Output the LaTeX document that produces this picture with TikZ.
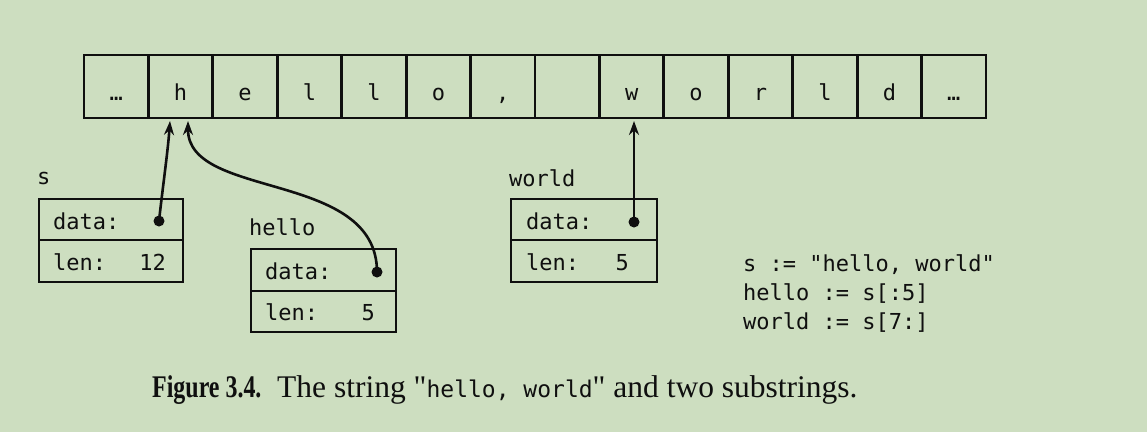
\documentclass[tikz,border=0pt]{standalone}
\usepackage{fontspec}
\setmainfont{Liberation Serif}[Ligatures=TeXOff]
\setmonofont{DejaVu Sans Mono}[Ligatures=TeXOff]
\usetikzlibrary{arrows.meta}
\definecolor{bg}{RGB}{205,222,192}
\definecolor{ink}{RGB}{15,15,15}
\begin{document}
\begin{tikzpicture}[x=1pt,y=-1pt,
  mono/.style={font=\ttfamily\fontsize{22}{22}\selectfont, text=ink, inner sep=0pt},
  cell/.style={draw=ink, line width=2.8pt, minimum width=64.43pt, minimum height=63pt, inner sep=0pt, mono, text height=27pt, text depth=0pt},
  field/.style={draw=ink, line width=2.8pt, inner sep=0pt},
  ptr/.style={draw=ink, line width=2.6pt, -{Stealth[length=14pt,width=10pt]}},
  dotnode/.style={circle, fill=ink, minimum size=11pt, inner sep=0pt}
]
\fill[bg] (0,0) rectangle (1147,432);
\useasboundingbox (0,0) rectangle (1147,432);

% string cells
\node[cell] (c0)  at (116.2,86.5) {…};
\node[cell] (c1)  at (180.6,86.5) {h};
\node[cell] (c2)  at (245.1,86.5) {e};
\node[cell] (c3)  at (309.5,86.5) {l};
\node[cell] (c4)  at (373.9,86.5) {l};
\node[cell] (c5)  at (438.4,86.5) {o};
\node[cell] (c6)  at (502.8,86.5) {,};
\node[cell] (c7)  at (567.2,86.5) {};
\node[cell] (c8)  at (631.7,86.5) {w};
\node[cell] (c9)  at (696.1,86.5) {o};
\node[cell] (c10) at (760.5,86.5) {r};
\node[cell] (c11) at (825.0,86.5) {l};
\node[cell] (c12) at (889.4,86.5) {d};
\node[cell] (c13) at (953.8,86.5) {…};

% s header
\node[mono, anchor=base west] (slab) at (37,184) {s};
\node[field, minimum width=144pt, minimum height=41pt] (sdata) at (111,219.5) {};
\node[field, minimum width=144pt, minimum height=42pt] (slen) at (111,261) {};
\node[mono, anchor=base west] (sdt) at (53,229) {data:};
\node[mono, anchor=base west] (sln) at (53,270) {len:};
\node[mono, anchor=base east] (slv) at (166,270) {12};
\node[dotnode] (sdot) at (159,221) {};

% hello header
\node[mono, anchor=base west] (hlab) at (249,235) {hello};
\node[field, minimum width=145pt, minimum height=42pt] (hdata) at (323.5,270) {};
\node[field, minimum width=145pt, minimum height=41pt] (hlen) at (323.5,311.5) {};
\node[mono, anchor=base west] (hdt) at (265,279) {data:};
\node[mono, anchor=base west] (hln) at (265,320) {len:};
\node[mono, anchor=base east] (hlv) at (375,320) {5};
\node[dotnode] (hdot) at (377,272) {};

% world header
\node[mono, anchor=base west] (wlab) at (509,186) {world};
\node[field, minimum width=146pt, minimum height=41pt] (wdata) at (584,219.5) {};
\node[field, minimum width=146pt, minimum height=42pt] (wlen) at (584,261) {};
\node[mono, anchor=base west] (wdt) at (526,229) {data:};
\node[mono, anchor=base west] (wln) at (526,270) {len:};
\node[mono, anchor=base east] (wlv) at (629,270) {5};
\node[dotnode] (wdot) at (634,222) {};

% pointers
\coordinate (tipS) at (170,121);
\coordinate (tipH) at (188,121);
\coordinate (tipW) at (634,121);
\draw[ptr] (sdot.center) .. controls (163,185) and (168,150) .. (tipS);
\draw[ptr] (hdot.center) .. controls (377,170) and (188,200) .. (tipH);
\draw[ptr] (wdot.center) -- (tipW);

% code
\node[mono, anchor=base west] (code1) at (743,271) {s := "hello, world"};
\node[mono, anchor=base west] (code2) at (743,300) {hello := s[:5]};
\node[mono, anchor=base west] (code3) at (743,329) {world := s[7:]};

% caption
\node[anchor=base west, inner sep=0pt, text=ink, font=\fontsize{31.5}{31.5}\selectfont] (cap) at (152,397)
  {\scalebox{0.76}[1]{\textbf{Figure 3.4.}}\hspace{0.5em}The string "{\ttfamily\fontsize{23}{23}\selectfont hello, world}" and two substrings.};
\end{tikzpicture}
\end{document}
